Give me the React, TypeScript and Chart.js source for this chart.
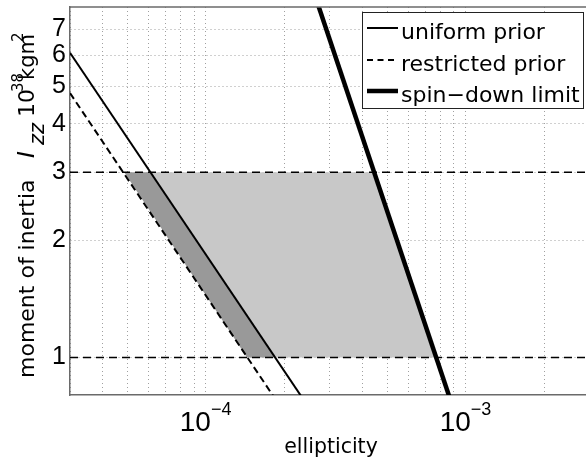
import React, { useEffect, useRef } from 'react';
import { Chart, registerables } from 'chart.js';

Chart.register(...registerables);

// ---- data ----
const uniformEps = [3e-5, 2.4e-4];
const uniformI = [6.1, 0.77];
const restrictedEps = [3e-5, 1.9e-4];
const restrictedI = [4.8, 0.76];
const spinDownEps = [2.6e-4, 9e-4];
const spinDownI = [8.75, 0.73];
const boundEps = [3e-5, 2.9e-3];
const lowerBoundI = [1, 1];
const upperBoundI = [3, 3];
const lightRegionEps = [6.1e-5, 4.44e-4, 7.69e-4, 1.845e-4];
const lightRegionI = [3, 3, 1, 1];
const darkRegionEps = [4.85e-5, 6.1e-5, 1.845e-4, 1.44e-4];
const darkRegionI = [3, 3, 1, 1];
const xGridTicks = [3e-5, 4e-5, 5e-5, 6e-5, 7e-5, 8e-5, 9e-5, 1e-4, 2e-4, 3e-4, 4e-4, 5e-4, 6e-4, 7e-4, 8e-4, 9e-4, 1e-3, 2e-3];
const xLabelTicks = [1e-4, 1e-3];
const xLabelExps = ['\u22124', '\u22123'];
const yTicks = [1, 2, 3, 4, 5, 6, 7];
const legendLabels = ['uniform prior', 'restricted prior', 'spin\u2212down limit'];

const FONT = '"Liberation Sans", Arial, Helvetica, sans-serif';
const TFONT = '"DejaVu Sans", "Liberation Sans", sans-serif';
const AXIS = '#6a6a6a';
const GRID = '#a0a0a0';

const pts = (xs: number[], ys: number[]) => xs.map((x, i) => ({ x, y: ys[i] }));

const overlay = {
  id: 'overlay',
  afterDraw(chart: any) {
    const ctx = chart.ctx as CanvasRenderingContext2D;
    const { left, right, top } = chart.chartArea;
    const xs = chart.scales.x;
    ctx.save();
    // top border
    ctx.strokeStyle = AXIS;
    ctx.lineWidth = 1.5;
    ctx.beginPath();
    ctx.moveTo(left, top);
    ctx.lineTo(right, top);
    ctx.stroke();

    ctx.fillStyle = '#000';
    ctx.textBaseline = 'alphabetic';
    // x tick labels with superscripts
    xLabelTicks.forEach((v, i) => {
      const px = xs.getPixelForValue(v);
      ctx.font = `28px ${FONT}`;
      ctx.textAlign = 'right';
      ctx.fillText('10', px + 5, 431);
      ctx.font = `18px ${FONT}`;
      ctx.textAlign = 'left';
      ctx.fillText(xLabelExps[i], px + 5, 415);
    });

    // x title
    ctx.font = `20.5px ${TFONT}`;
    ctx.textAlign = 'left';
    const tw = ctx.measureText('ellipticity').width;
    ctx.fillText('ellipticity', 331 - tw / 2, 453);

    // y title (rotated)
    ctx.save();
    ctx.translate(34, 378);
    ctx.rotate(-Math.PI / 2);
    ctx.font = `22px ${TFONT}`;
    ctx.fillText('moment of inertia', 0, 0);
    ctx.font = `italic 23px ${TFONT}`;
    ctx.fillText('I', 220, 0);
    ctx.font = `italic 21px ${TFONT}`;
    ctx.fillText('zz', 233, 10);
    ctx.font = `22px ${TFONT}`;
    ctx.fillText('10', 261, 0);
    ctx.font = `15px ${TFONT}`;
    ctx.fillText('38', 286, -11);
    ctx.font = `21px ${TFONT}`;
    ctx.fillText('kgm', 298, 0);
    ctx.font = `15px ${TFONT}`;
    ctx.fillText('2', 336, -11);
    ctx.restore();

    // legend
    const bx = 362.5, by = 12.5, bw = 221, bh = 96;
    ctx.fillStyle = '#fff';
    ctx.fillRect(bx, by, bw, bh);
    ctx.strokeStyle = '#222';
    ctx.lineWidth = 1;
    ctx.strokeRect(bx, by, bw, bh);
    const lineYs = [28, 60, 91];
    const widths = [2, 2, 4.5];
    const dashes = [[], [6, 4.5], []];
    legendLabels.forEach((lab, i) => {
      ctx.strokeStyle = '#000';
      ctx.lineWidth = widths[i];
      ctx.setLineDash(dashes[i]);
      ctx.beginPath();
      ctx.moveTo(367, lineYs[i]);
      ctx.lineTo(398, lineYs[i]);
      ctx.stroke();
      ctx.setLineDash([]);
      ctx.fillStyle = '#000';
      ctx.font = `22px ${TFONT}`;
      ctx.textAlign = 'left';
      ctx.fillText(lab, 401, lineYs[i] + 11);
    });
    ctx.restore();
  },
};

export default function App() {
  const ref = useRef<HTMLCanvasElement>(null);
  useEffect(() => {
    if (!ref.current) return;
    const chart = new Chart(ref.current, {
      type: 'line',
      data: {
        datasets: [
          { label: 'uniform prior', data: pts(uniformEps, uniformI), borderColor: '#000', borderWidth: 2, pointRadius: 0, fill: false, order: 1 },
          { label: 'restricted prior', data: pts(restrictedEps, restrictedI), borderColor: '#000', borderWidth: 2, borderDash: [7, 4], pointRadius: 0, fill: false, order: 1 },
          { label: 'spin-down limit', data: pts(spinDownEps, spinDownI), borderColor: '#000', borderWidth: 4.5, pointRadius: 0, fill: false, order: 1 },
          { label: 'I = 1', data: pts(boundEps, lowerBoundI), borderColor: '#000', borderWidth: 1.5, borderDash: [8, 5], pointRadius: 0, fill: false, order: 2 },
          { label: 'I = 3', data: pts(boundEps, upperBoundI), borderColor: '#000', borderWidth: 1.5, borderDash: [8, 5], pointRadius: 0, fill: false, order: 2 },
          { label: 'light', data: pts(lightRegionEps, lightRegionI), borderWidth: 0, borderColor: 'rgba(0,0,0,0)', backgroundColor: '#c8c8c8', pointRadius: 0, fill: 'shape', order: 4 },
          { label: 'dark', data: pts(darkRegionEps, darkRegionI), borderWidth: 0, borderColor: 'rgba(0,0,0,0)', backgroundColor: '#999999', pointRadius: 0, fill: 'shape', order: 3 },
        ],
      },
      options: {
        animation: false,
        responsive: false,
        devicePixelRatio: 1,
        events: [],
        layout: { padding: { left: 0, right: 0, top: 7, bottom: 0 } },
        plugins: { legend: { display: false }, tooltip: { enabled: false }, title: { display: false } },
        scales: {
          x: {
            type: 'logarithmic',
            min: 3e-5,
            max: 2.9e-3,
            afterBuildTicks: (s: any) => { s.ticks = xGridTicks.map((v) => ({ value: v })); },
            afterFit: (s: any) => { s.height = 66; s.paddingLeft = 0; s.paddingRight = 0; s.paddingTop = 0; s.paddingBottom = 0; },
            ticks: { display: false },
            grid: { color: GRID, lineWidth: 1, drawTicks: false },
            border: { display: true, color: AXIS, width: 1.5, dash: [1, 3] },
          },
          y: {
            type: 'logarithmic',
            min: 0.8,
            max: 8,
            afterBuildTicks: (s: any) => { s.ticks = yTicks.map((v) => ({ value: v })); },
            afterFit: (s: any) => { s.width = 70; s.paddingLeft = 0; s.paddingRight = 0; s.paddingTop = 0; s.paddingBottom = 0; },
            ticks: { autoSkip: false, padding: 4, color: '#000', font: { family: FONT, size: 25 }, callback: (v: any) => String(v) },
            grid: { color: GRID, lineWidth: 1, drawTicks: false },
            border: { display: true, color: AXIS, width: 1.5, dash: [1, 3] },
          },
        },
      },
      plugins: [overlay],
    } as any);
    return () => chart.destroy();
  }, []);
  return (
    <canvas
      ref={ref}
      width={586}
      height={461}
      style={{ position: 'absolute', left: 0, top: 0, width: 586, height: 461, background: '#fff' }}
    />
  );
}
